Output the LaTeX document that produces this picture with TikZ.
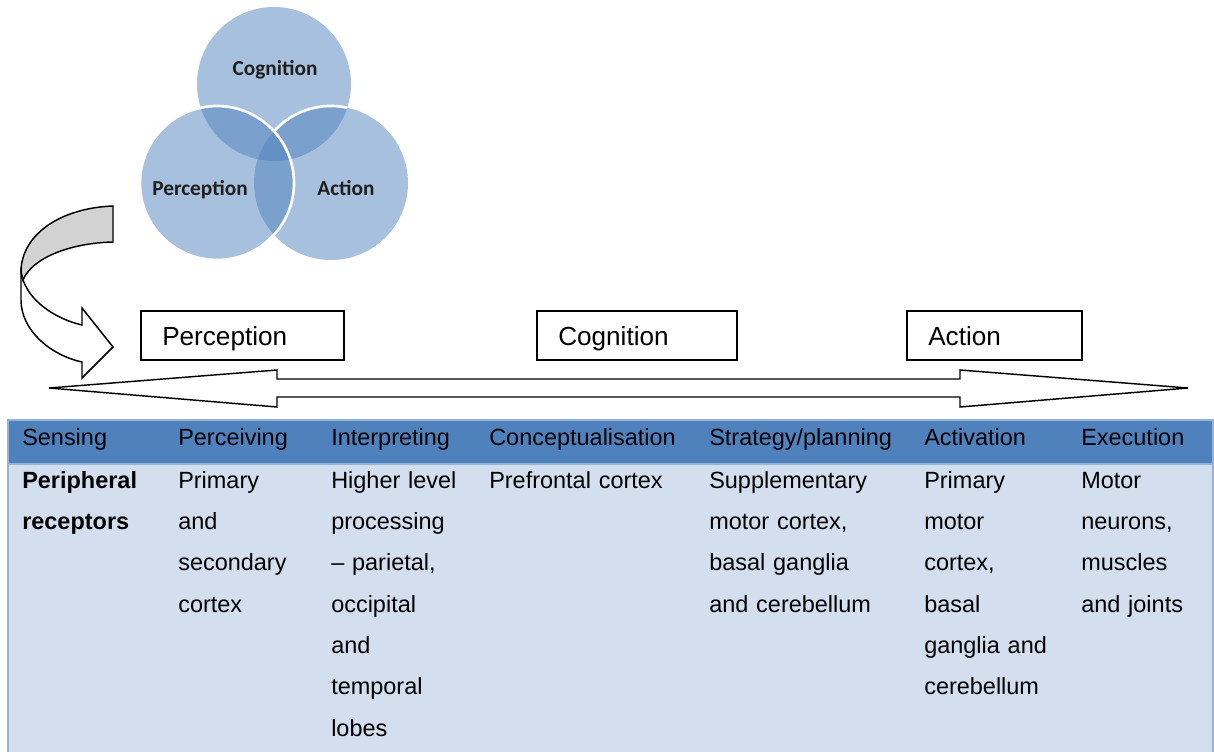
\documentclass[tikz,border=0pt]{standalone}
\usepackage{fontspec}
\setmainfont{Liberation Sans}
\newfontfamily\vennfont{Carlito}
\definecolor{hdr}{RGB}{79,129,189}
\definecolor{bodyc}{RGB}{211,223,238}
\definecolor{tbord}{RGB}{149,179,215}
\definecolor{vtext}{RGB}{30,30,30}
\definecolor{agray}{RGB}{210,210,210}
\begin{document}
\begin{tikzpicture}[x=0.75pt,y=-0.75pt,
  venn/.style={fill=hdr, fill opacity=0.5},
  vlabel/.style={font=\vennfont\bfseries\fontsize{16}{19}\selectfont, text=vtext, inner sep=0, anchor=base},
  stagebox/.style={draw=black, line width=1.1pt, inner sep=0},
  stagetext/.style={font=\fontsize{19.6}{23}\selectfont, inner sep=0, anchor=base west},
  hcell/.style={font=\fontsize{17.6}{31}\selectfont, inner sep=0, anchor=base west},
  bcell/.style={font=\fontsize{17.6}{31}\selectfont, inner sep=0, anchor=base west, align=left, text width=#1},
  outl/.style={draw=black, line width=1.1pt, line join=miter}
]
\useasboundingbox (0,0) rectangle (1214,752);

% Venn diagram
\fill[venn] (274,84) circle (77);
\fill[venn] (331,183) circle (77);
\fill[venn] (217,183) circle (77);
\begin{scope}
  \clip (274,84) circle (77);
  \draw[white, line width=2pt] ([shift={(222.4:77)}]331,183) arc[start angle=222.4, end angle=340, radius=77];
\end{scope}
\draw[white, line width=2pt] (217,183) circle (77);
\node[vlabel] (lcog) at (275,76) {Cognition};
\node[vlabel] (lper) at (200,196) {Perception};
\node[vlabel] (lact) at (346,196) {Action};

% curved arrow
\draw[outl, fill=white] (21,272) -- (21,300) .. controls (21,330) and (50,355) .. (82,362)
  -- (82,378) -- (113,347) -- (82,308) -- (82,325)
  .. controls (60,320) and (32,305) .. (23,280) -- cycle;
\draw[outl, fill=agray] (113,206) .. controls (60,208) and (21,235) .. (21,272)
  -- (23,280) .. controls (32,258) and (70,243) .. (113,242) -- cycle;

% stage boxes
\draw[stagebox] (141,311) rectangle (344,360);
\draw[stagebox] (537,311) rectangle (737,360);
\draw[stagebox] (907,311) rectangle (1082,360);
\node[stagetext] (tper) at (162,345) {Perception};
\node[stagetext] (tcog) at (558,345) {Cognition};
\node[stagetext] (tact) at (928,345) {Action};

% double arrow
\draw[outl, fill=white] (49,388) -- (277,370) -- (277,379) -- (960,379) -- (960,370)
  -- (1188,388) -- (960,407) -- (960,397) -- (277,397) -- (277,407) -- cycle;

% table
\fill[bodyc] (8,463) rectangle (1214,752);
\fill[hdr] (8,420) rectangle (1214,463);
\draw[tbord, line width=2pt] (8,752) -- (8,420) -- (1214,420);
\draw[tbord, line width=2pt] (8,464) -- (1214,464);
\draw[tbord, line width=2pt] (1213,420) -- (1213,752);

\node[hcell] (h1) at (22,445) {Sensing};
\node[hcell] (h2) at (178,445) {Perceiving};
\node[hcell] (h3) at (331,445) {Interpreting};
\node[hcell] (h4) at (489,445) {Conceptualisation};
\node[hcell] (h5) at (709,445) {Strategy/planning};
\node[hcell] (h6) at (924,445) {Activation};
\node[hcell] (h7) at (1081,445) {Execution};

\node[bcell=140pt] (b1) at (22,488) {\bfseries Peripheral\\\bfseries receptors};
\node[bcell=110pt] (b2) at (178,488) {Primary\\and\\secondary\\cortex};
\node[bcell=115pt] (b3) at (331,488) {Higher level\\processing\\– parietal,\\occipital\\and\\temporal\\lobes};
\node[bcell=160pt] (b4) at (489,488) {Prefrontal cortex};
\node[bcell=160pt] (b5) at (709,488) {Supplementary\\motor cortex,\\basal ganglia\\and cerebellum};
\node[bcell=115pt] (b6) at (924,488) {Primary\\motor\\cortex,\\basal\\ganglia and\\cerebellum};
\node[bcell=100pt] (b7) at (1081,488) {Motor\\neurons,\\muscles\\and joints};
\end{tikzpicture}
\end{document}
